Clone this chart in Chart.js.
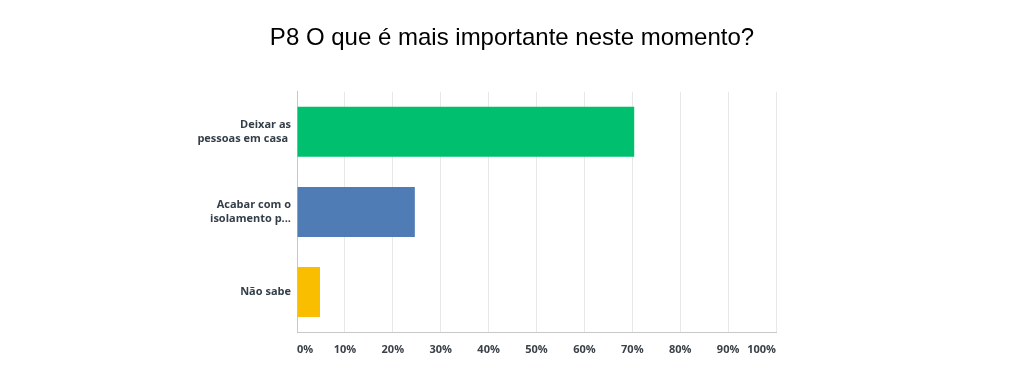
<!DOCTYPE html>
<html>
<head>
<meta charset="utf-8">
<script src="https://cdn.jsdelivr.net/npm/chart.js@4/dist/chart.umd.min.js"></script>
<style>
  html, body { margin: 0; padding: 0; background: #fff; }
  #wrap { width: 1024px; height: 385px; }
</style>
</head>
<body>
<div id="wrap"><canvas id="c" width="1024" height="385"></canvas></div>
<script>
const titleText = "P8 O que é mais importante neste momento?";
const categories = [["Deixar as", "pessoas em casa "], ["Acabar com o", "isolamento p..."], "Não sabe"];
const values = [70.4, 24.6, 4.8];
const barColors = ["#00BF6F", "#507CB6", "#F9BE00"];
const xTicks = [0, 10, 20, 30, 40, 50, 60, 70, 80, 90, 100];

new Chart(document.getElementById('c'), {
  type: 'bar',
  data: {
    labels: categories,
    datasets: [{
      data: values,
      backgroundColor: barColors,
      borderWidth: 0,
      barPercentage: 0.625,
      categoryPercentage: 1.0
    }]
  },
  options: {
    indexAxis: 'y',
    responsive: false,
    animation: false,
    layout: { padding: 0 },
    plugins: {
      legend: { display: false },
      tooltip: { enabled: false },
      title: {
        display: true,
        text: titleText,
        color: '#000',
        font: { family: 'Liberation Sans, Arial, sans-serif', size: 24, weight: 'normal' },
        padding: { top: 24, bottom: 39 }
      }
    },
    scales: {
      x: {
        min: 0, max: 100,
        afterBuildTicks: (s) => { s.ticks = xTicks.map(v => ({ value: v })); },
        afterFit: (s) => { s.height = 53; },
        grid: { color: '#e8e8e8', drawTicks: false, lineWidth: 1 },
        border: { color: '#c8c8c8', width: 1 },
        ticks: {
          align: 'inner',
          padding: 11,
          color: '#3b4149',
          font: { family: 'Open Sans, sans-serif', size: 11, weight: 'bold' },
          callback: (v) => v + '%'
        }
      },
      y: {
        afterFit: (s) => { s.width = 297; },
        grid: { display: false, drawTicks: false },
        border: { color: '#c8c8c8', width: 1 },
        ticks: {
          padding: 6,
          color: '#333e48',
          font: { family: 'Open Sans, sans-serif', size: 11, weight: 'bold', lineHeight: 1.3 }
        }
      },
      yRight: {
        type: 'linear',
        position: 'right',
        display: true,
        afterFit: (s) => { s.width = 248; },
        grid: { display: false, drawTicks: false },
        border: { display: false },
        ticks: { display: false }
      }
    }
  }
});
</script>
</body>
</html>
